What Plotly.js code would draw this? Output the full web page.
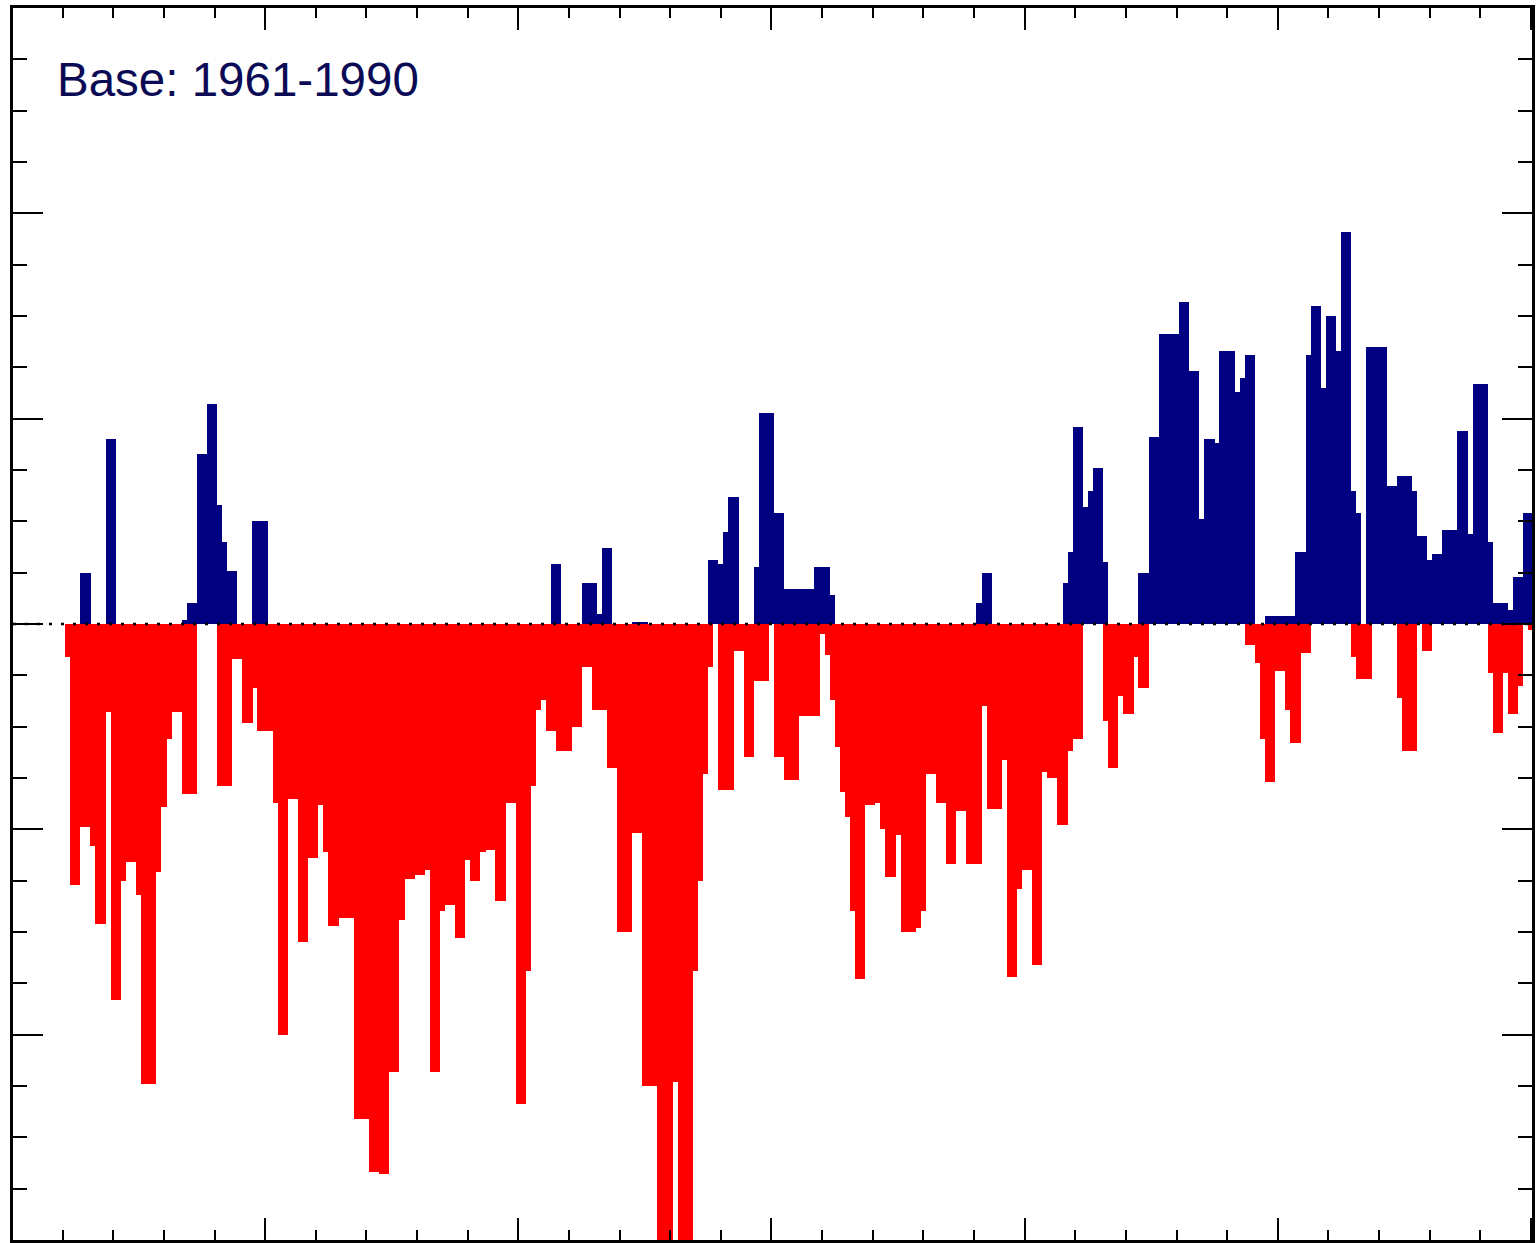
<!DOCTYPE html>
<html>
<head>
<meta charset="utf-8">
<script src="https://cdn.plot.ly/plotly-3.0.1.min.js"></script>
<style>
html,body{margin:0;padding:0;background:#fff;}
#chart{width:1540px;height:1243px;}
</style>
</head>
<body>
<div id="chart"></div>
<script>
// Years shown by the bars (one bar per year)
var firstYear = 1711;
var lastYear = 2000;
var years = [];
for (var yr = firstYear; yr <= lastYear; yr++) { years.push(yr); }

// Positive anomalies (blue)
var positive = [
0,0,0,0.25,0.25,0,0,0,0.90,0.90,
0,0,0,0,0,0,0,0,0,0,
0,0,0,0.02,0.10,0.10,0.83,0.83,1.07,1.07,
0.58,0.40,0.26,0.26,0,0,0,0.50,0.50,0.50,
0,0,0,0,0,0,0,0,0,0,
0,0,0,0,0,0,0,0,0,0,
0,0,0,0,0,0,0,0,0,0,
0,0,0,0,0,0,0,0,0,0,
0,0,0,0,0,0,0,0,0,0,
0,0,0,0,0,0,0.29,0.29,0,0,
0,0,0.20,0.20,0.20,0.05,0.37,0.37,0,0,
0,0,0.01,0.01,0.01,0,0,0,0,0,
0,0,0,0,0,0,0,0.31,0.31,0.29,
0.45,0.62,0.62,0,0,0,0.28,1.03,1.03,1.03,
0.54,0.54,0.17,0.17,0.17,0.17,0.17,0.17,0.28,0.28,
0.28,0.14,0,0,0,0,0,0,0,0,
0,0,0,0,0,0,0,0,0,0,
0,0,0,0,0,0,0,0,0,0,
0.10,0.25,0.25,0,0,0,0,0,0,0,
0,0,0,0,0,0,0,0.20,0.35,0.96,
0.96,0.57,0.65,0.76,0.76,0.30,0,0,0,0,
0,0,0.25,0.25,0.91,0.91,1.41,1.41,1.41,1.41,
1.57,1.57,1.23,1.23,0.51,0.90,0.90,0.88,1.33,1.33,
1.33,1.13,1.20,1.31,1.31,0,0,0.04,0.04,0.04,
0.04,0.04,0.04,0.35,0.35,1.31,1.55,1.55,1.15,1.50,
1.50,1.33,1.91,1.91,0.65,0.54,0,1.35,1.35,1.35,
1.35,0.67,0.67,0.72,0.72,0.72,0.65,0.43,0.43,0.31,
0.34,0.34,0.46,0.46,0.46,0.94,0.94,0.44,1.17,1.17,
1.17,0.40,0.10,0.10,0.10,0.07,0.23,0.23,0.54,0.54
];

// Negative anomalies (red)
var negative = [
-0.16,-1.27,-1.27,-0.99,-0.99,-1.08,-1.46,-1.46,-0.43,-1.83,
-1.83,-1.25,-1.16,-1.16,-1.32,-2.24,-2.24,-2.24,-1.21,-0.89,
-0.56,-0.43,-0.43,-0.83,-0.83,-0.83,0,0,0,0,
-0.79,-0.79,-0.79,-0.17,-0.17,-0.48,-0.48,-0.31,-0.52,-0.52,
-0.52,-0.87,-2.00,-2.00,-0.85,-0.85,-1.55,-1.55,-1.14,-1.14,
-0.88,-1.11,-1.47,-1.47,-1.43,-1.43,-1.43,-2.41,-2.41,-2.41,
-2.67,-2.67,-2.68,-2.68,-2.18,-2.18,-1.44,-1.24,-1.24,-1.22,
-1.22,-1.20,-2.18,-2.18,-1.40,-1.37,-1.37,-1.53,-1.53,-1.15,
-1.25,-1.25,-1.11,-1.10,-1.10,-1.35,-1.35,-0.87,-0.87,-2.34,
-2.34,-1.69,-0.79,-0.42,-0.37,-0.52,-0.52,-0.62,-0.62,-0.62,
-0.50,-0.50,-0.21,-0.21,-0.42,-0.42,-0.42,-0.70,-0.70,-1.50,
-1.50,-1.50,-1.02,-1.02,-2.25,-2.25,-2.25,-3.10,-3.10,-3.10,
-2.23,-3.10,-3.10,-3.10,-1.69,-1.25,-0.73,-0.21,0,-0.81,
-0.81,-0.81,-0.13,-0.13,-0.65,-0.65,-0.28,-0.28,-0.28,0,
-0.65,-0.65,-0.76,-0.76,-0.76,-0.45,-0.45,-0.45,-0.45,-0.05,
-0.15,-0.37,-0.60,-0.82,-0.94,-1.40,-1.73,-1.73,-0.88,-0.88,
-0.87,-1.00,-1.23,-1.23,-1.03,-1.50,-1.50,-1.50,-1.48,-1.40,
-0.73,-0.73,-0.87,-0.87,-1.17,-1.17,-0.91,-0.91,-1.17,-1.17,
-1.17,-0.40,-0.90,-0.90,-0.90,-0.66,-1.72,-1.72,-1.29,-1.20,
-1.20,-1.66,-1.66,-0.72,-0.75,-0.75,-0.98,-0.98,-0.62,-0.56,
-0.56,0,0,0,0,-0.47,-0.70,-0.70,-0.35,-0.44,
-0.44,-0.16,-0.31,-0.31,0,0,0,0,0,0,
0,0,0,0,0,0,0,0,0,0,
0,0,0,-0.10,-0.10,-0.19,-0.56,-0.77,-0.77,-0.23,
-0.23,-0.42,-0.58,-0.58,-0.14,-0.14,0,0,0,0,
0,0,0,0,-0.16,-0.27,-0.27,-0.27,0,0,
0,0,0,-0.36,-0.62,-0.62,-0.62,0,-0.13,-0.13,
0,0,0,0,0,0,0,0,0,0,
0,-0.24,-0.53,-0.53,-0.24,-0.44,-0.44,-0.30,0,-0.03
];

var annotationText = 'Base: 1961-1990';

var traces = [
  {type:'bar', x:years, y:positive, width:1.04, marker:{color:'#000080', line:{width:0}}, hoverinfo:'skip', showlegend:false},
  {type:'bar', x:years, y:negative, width:1.04, marker:{color:'#ff0000', line:{width:0}}, hoverinfo:'skip', showlegend:false}
];

var layout = {
  width:1540, height:1243,
  margin:{l:13, r:8, t:8, b:3, pad:0},
  paper_bgcolor:'#ffffff', plot_bgcolor:'#ffffff',
  barmode:'overlay', bargap:0,
  showlegend:false,
  xaxis:{
    range:[1700.2, 2000.2], showgrid:false, zeroline:false,
    showline:true, linecolor:'#000', linewidth:3, mirror:'ticks',
    ticks:'inside', tick0:1700, dtick:50, ticklen:22, tickwidth:2, tickcolor:'#000',
    showticklabels:false,
    minor:{ticks:'inside', tick0:1700, dtick:10, ticklen:10, tickwidth:2, tickcolor:'#000', showgrid:false}
  },
  yaxis:{
    range:[-3, 3], showgrid:false, zeroline:false,
    showline:true, linecolor:'#000', linewidth:3, mirror:'ticks',
    ticks:'inside', tick0:0, dtick:1, ticklen:30, tickwidth:2, tickcolor:'#000',
    showticklabels:false,
    minor:{ticks:'inside', tick0:0, dtick:0.25, ticklen:14, tickwidth:2, tickcolor:'#000', showgrid:false}
  },
  shapes:[
    {type:'line', xref:'paper', yref:'y', x0:0, x1:1, y0:0, y1:0, layer:'above',
     line:{color:'#000', width:2.5, dash:'3px,9px'}}
  ],
  annotations:[
    {text:annotationText, xref:'paper', yref:'paper', x:0.0275, y:0.9416,
     xanchor:'left', yanchor:'middle', showarrow:false,
     font:{family:'Liberation Sans, Arial, sans-serif', size:47.5, color:'#0a0a55'}}
  ]
};

Plotly.newPlot('chart', traces, layout, {displayModeBar:false, staticPlot:true});
</script>
</body>
</html>
